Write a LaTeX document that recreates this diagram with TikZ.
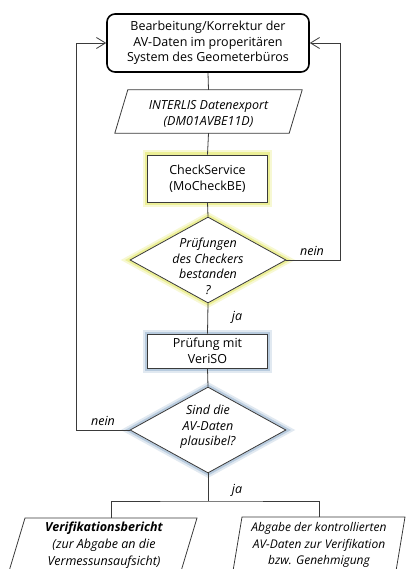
\documentclass[tikz,border=0pt]{standalone}
\usepackage{fontspec}
\setmainfont{Open Sans}
\usetikzlibrary{arrows.meta,shapes.geometric,calc}
\definecolor{lineC}{HTML}{3A3A3A}
\definecolor{glowY}{HTML}{E6EA6E}
\definecolor{glowB}{HTML}{9DB8D2}
\tikzset{
  conn/.style={draw=lineC, line width=0.8pt},
  arr/.style={conn, -{Straight Barb[length=9pt,width=11pt,line width=0.8pt]}},
  topbox/.style={draw=black, line width=1.6pt, rounded corners=8pt, fill=white, minimum width=202pt, minimum height=58pt, align=center, inner sep=0pt},
  procbox/.style={draw=lineC, line width=0.8pt, fill=white, minimum width=120pt, align=center, inner sep=0pt},
  yglow/.style={preaction={draw=glowY, line width=9pt, opacity=0.3}, preaction={draw=glowY, line width=5pt, opacity=0.6}},
  bglow/.style={preaction={draw=glowB, line width=9pt, opacity=0.3}, preaction={draw=glowB, line width=5pt, opacity=0.6}},
  dia/.style={shape=diamond, draw=lineC, line width=0.8pt, fill=white, minimum width=156pt, minimum height=86pt, inner sep=0pt},
  para/.style={draw=lineC, line width=0.8pt, fill=white},
  txt/.style={align=center, inner sep=0pt, font=\fontsize{12.5}{15.5}\selectfont},
  itxt/.style={txt, font=\fontsize{12.5}{15.5}\selectfont\itshape},
  btxt/.style={txt, font=\fontsize{12.5}{16.8}\selectfont\itshape},
  lab/.style={inner sep=0pt, font=\fontsize{12.5}{14}\selectfont\itshape},
}
\begin{document}
\begin{tikzpicture}[x=1pt,y=-1pt]
\useasboundingbox[fill=white] (0,0) rectangle (407,569);
\clip (0,0) rectangle (407,569);

% top box
\node[topbox, font=\fontsize{12.5}{15.5}\selectfont] (tb) at (208,43) {Bearbeitung/Korrektur der\\AV-Daten im properitären\\System des Geometerbüros};

% parallelogram 1
\node[inner sep=0pt, minimum width=174pt, minimum height=43pt] (p1) at (208.5,111.5) {};
\draw[para] ($(p1.north west)+(6.5,0)$) -- ($(p1.north east)+(6.5,0)$) -- ($(p1.south east)+(-6.5,0)$) -- ($(p1.south west)+(-6.5,0)$) -- cycle;
\node[itxt] (p1t) at (208.5,114) {INTERLIS Datenexport\\(DM01AVBE11D)};

% check service
\node[procbox, yglow, minimum height=47pt, txt] (cs) at (207.5,178.5) {CheckService\\(MoCheckBE)};

% diamond 1
\node[dia, yglow] (d1) at (208,260) {};
\node[itxt] (d1t) at (208,266.5) {Prüfungen\\des Checkers\\bestanden\\?};

% VeriSO
\node[procbox, bglow, minimum height=34pt, txt] (vs) at (207.5,351) {Prüfung mit\\VeriSO};

% diamond 2
\node[dia, bglow] (d2) at (208,430) {};
\node[itxt] (d2t) at (208,427) {Sind die\\AV-Daten\\plausibel?};

% bottom parallelograms
\coordinate (blN) at (111,518);
\coordinate (brN) at (319,517);
\draw[para] (25,518) -- (197,518) -- (178.4,580) -- (6.4,580) -- cycle;
\draw[para] (242,517) -- (405,517) -- (394.5,580) -- (231.5,580) -- cycle;
\node[btxt] (bl) at (104,545) {\textbf{Verifikationsbericht}\\(zur Abgabe an die\\Vermessunsaufsicht)};
\node[btxt, font=\fontsize{12}{16.8}\selectfont\itshape] (br) at (319,545) {Abgabe der kontrollierten\\AV-Daten zur Verifikation\\bzw. Genehmigung};

% connectors
\draw[conn] (tb.south) -- (p1.north);
\draw[conn] (p1.south) -- (cs.north);
\draw[conn] (cs.south) -- (d1.north);
\draw[conn] (d1.south) -- (vs.north);
\draw[conn] (vs.south) -- (d2.north);

\coordinate (rc) at (340,260);
\coordinate (lc) at (76,430);
\draw[arr] (d1.east) -- (rc) |- (tb.east);
\draw[arr] (d2.west) -- (lc) |- (tb.west);

\coordinate (jn) at (208,501);
\draw[conn] (d2.south) -- (jn);
\draw[conn] (blN) |- (jn) -| (brN);

% labels
\node[lab] (n1) at (312,251) {nein};
\node[lab] (j1) at (237,317) {ja};
\node[lab] (n2) at (103,421) {nein};
\node[lab] (j2) at (237,490) {ja};
\end{tikzpicture}
\end{document}
